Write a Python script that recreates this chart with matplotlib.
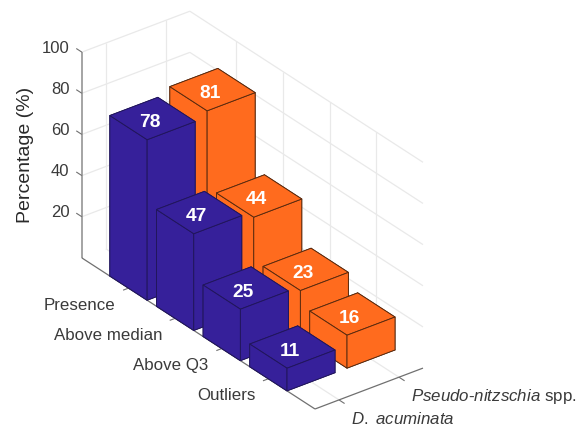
import numpy as np
import matplotlib
matplotlib.use("Agg")
import matplotlib.pyplot as plt
from mpl_toolkits.mplot3d import proj3d

plt.rcParams["font.family"] = ["Liberation Sans", "DejaVu Sans"]
plt.rcParams["mathtext.fontset"] = "custom"
plt.rcParams["mathtext.it"] = "Liberation Sans:italic"
plt.rcParams["mathtext.rm"] = "Liberation Sans"

categories = ["Presence", "Above median", "Above Q3", "Outliers"]
species = [r"$\it{D.}$ $\it{acuminata}$", r"$\it{Pseudo}$-$\it{nitzschia}$ spp."]
d_acuminata = [78, 47, 25, 11]
pseudo_nitzschia = [81, 44, 23, 16]
z_ticks = [20, 40, 60, 80, 100]
z_tick_labels = ["20", "40", "60", "80", "100"]

BLUE = "#36209A"
ORANGE = "#FF6B1E"
GRID = "#E9E9E9"
AXIS = "#707070"
TEXT = "#3A3A3A"

XLIM = (0.6, 2.4)
YLIM = (5.0, 0.0)
ZLIM = (0, 100)
BAR = 0.8
WIDTH, HEIGHT = 587, 429

fig = plt.figure(figsize=(WIDTH / 100, HEIGHT / 100), dpi=100, facecolor="white")
ax = fig.add_axes([0, 0, 1, 1], projection="3d", proj_type="ortho",
                  computed_zorder=False)
ax.set_axis_off()
ax.view_init(elev=29.7, azim=-127.4)
aspect = np.array([136.0, 384.0, 237.0])


def line(xs, ys, zs, color, lw, zorder):
    ax.plot(xs, ys, zs, color=color, lw=lw, zorder=zorder, clip_on=False,
            solid_capstyle="butt")


# Back walls and floor grid
x0, x1 = XLIM
yn, yf = YLIM
for z in z_ticks:
    line([x0, x1], [yf, yf], [z, z], GRID, 0.9, 1)
    line([x1, x1], [yf, yn], [z, z], GRID, 0.9, 1)
for x in (1, 2):
    line([x, x], [yf, yf], ZLIM, GRID, 0.9, 1)
    line([x, x], [yf, yn], [0, 0], GRID, 0.9, 1)
for y in range(1, len(categories) + 1):
    line([x1, x1], [y, y], ZLIM, GRID, 0.9, 1)
    line([x0, x1], [y, y], [0, 0], GRID, 0.9, 1)

# Axis lines and tick marks
line([x0, x0], [yf, yf], ZLIM, "#8C8C8C", 1.1, 2)
line([x0, x0], [yf, yn], [0, 0], AXIS, 0.9, 2)
line([x0, x1], [yn, yn], [0, 0], AXIS, 0.9, 2)
for z in z_ticks:
    line([x0, x0], [yf, yf - 0.12], [z, z], AXIS, 0.8, 2)
for y in range(1, len(categories) + 1):
    line([x0, x0 - 0.09], [y, y], [0, 0], AXIS, 0.8, 2)
for x in (1, 2):
    line([x, x], [yn, yn + 0.12], [0, 0], AXIS, 0.8, 2)

# Bars, painted from the far row to the near one, orange behind blue
order = 3
bar_series = ((2, pseudo_nitzschia, ORANGE, "#55290F"),
              (1, d_acuminata, BLUE, "#21165A"))
for xpos, values, color, edge in bar_series:
    for i, value in enumerate(values):
        ax.bar3d(xpos - BAR / 2, i + 1 - BAR / 2, 0, BAR, BAR, value,
                 color=color, edgecolor=edge, linewidth=0.65, shade=False,
                 zorder=order, clip_on=False)
        order += 1

ax.set_xlim(*XLIM)
ax.set_ylim(*YLIM)
ax.set_zlim(*ZLIM)
ax.set_box_aspect(aspect)


def to_pixels(x, y, z):
    px, py, _ = proj3d.proj_transform(x, y, z, ax.get_proj())
    return ax.transData.transform((px, py))


# Size the plot box, then slide it so its near floor corner sits at (315, 409)
ax.apply_aspect()
span = np.ptp([to_pixels(x0, yn, 0)[0], to_pixels(x1, yn, 0)[0]])
ax.set_box_aspect(aspect, zoom=108.0 / span)
ax.apply_aspect()
corner = to_pixels(x0, yn, 0)
ax.set_position([(315 - corner[0]) / WIDTH,
                 (HEIGHT - 409 - corner[1]) / HEIGHT, 1, 1])
ax.apply_aspect()


def label(x, y, z, text, dx=0.0, dy=0.0, **style):
    # Text anchored at a data point, nudged by a pixel offset (dy points up)
    px, py = to_pixels(x, y, z)
    fig.text((px + dx) / WIDTH, (py + dy) / HEIGHT, text, va="center", **style)


for xpos, values, _, _ in bar_series:
    for i, value in enumerate(values):
        label(xpos, i + 1, value, str(value), dx=-2.5, dy=-4, color="white",
              fontsize=13.8, fontweight="bold", ha="center")

for z, text in zip(z_ticks, z_tick_labels):
    label(x0, yf - 0.268, z - 2, text, color=TEXT, fontsize=12, ha="right")
for i, text in enumerate(categories):
    label(x0 - 0.217, i + 1, -5.9, text, color=TEXT, fontsize=12.2, ha="right")
for i, text in enumerate(species):
    label(i + 1, yn + 0.247, -5.6, text, dy=-0.5, color=TEXT, fontsize=12.2, ha="left")

fig.text(26 / WIDTH, 1 - 155 / HEIGHT, "Percentage (%)", rotation=90,
         color="#2A2A2A", fontsize=14, ha="center", va="center")

fig.savefig("out.png", dpi=100)
